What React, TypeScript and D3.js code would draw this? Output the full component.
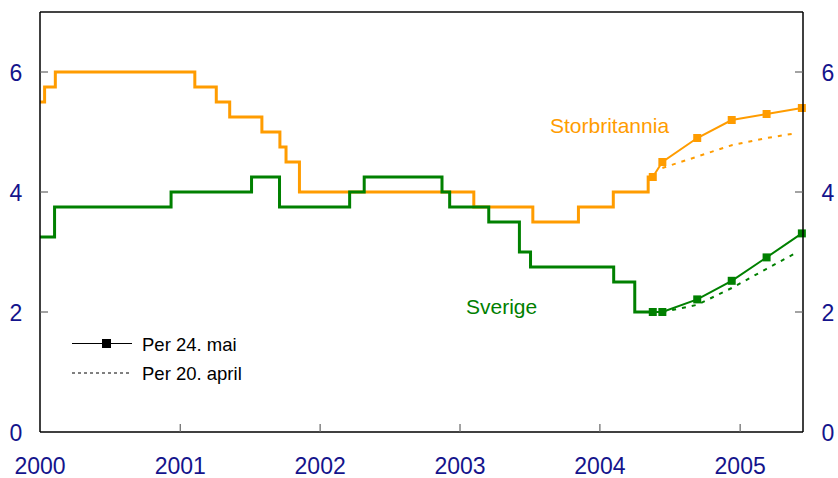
import React from "react";
import * as d3 from "d3";

// Historical policy rates (step functions)
const ukDates = ["2000-01-01","2000-01-13","2000-02-10","2001-02-08","2001-04-05","2001-05-10","2001-08-02","2001-09-18","2001-10-04","2001-11-08","2003-02-06","2003-07-10","2003-11-06","2004-02-05","2004-05-06","2004-05-18"];
const ukRates = [5.5,5.75,6.0,5.75,5.5,5.25,5.0,4.75,4.5,4.0,3.75,3.5,3.75,4.0,4.25,4.25];
const seDates = ["2000-01-01","2000-02-08","2000-12-08","2001-07-06","2001-09-17","2002-03-19","2002-04-26","2002-11-15","2002-12-05","2003-03-17","2003-06-05","2003-07-04","2004-02-06","2004-04-01","2004-05-18"];
const seRates = [3.25,3.75,4.0,4.25,3.75,4.0,4.25,4.0,3.75,3.5,3.0,2.75,2.5,2.0,2.0];

// Forward rates per 24 May (solid with markers)
const mayDates = ["2004-05-18","2004-06-12","2004-09-11","2004-12-10","2005-03-11","2005-06-11"];
const ukMay = [4.25,4.5,4.9,5.2,5.3,5.4];
const seMay = [2.0,2.0,2.21,2.52,2.91,3.31];

// Forward rates per 20 April (dashed)
const aprDates = ["2004-06-12","2004-09-11","2004-12-10","2005-03-11","2005-05-28"];
const ukApr = [4.4,4.59,4.78,4.9,4.98];
const seApr = [2.0,2.12,2.4,2.72,2.99];

const yTicks = [0,2,4,6];
const yearTicks = [2000,2001,2002,2003,2004,2005];

const ORANGE = "#ff9c00";
const GREEN = "#008000";
const NAVY = "#14148c";
const FONT = "'Liberation Sans', Arial, sans-serif";

export default function App() {
  const left = 40, right = 803, top = 12, bottom = 432;
  const x = d3.scaleTime().domain([new Date(2000,0,1), new Date(2005,5,14)]).range([left, right]);
  const y = d3.scaleLinear().domain([0,7]).range([bottom, top]);
  const pd = (s: string) => { const [a,b,c] = s.split("-").map(Number); return new Date(a,b-1,c); };

  const step = d3.line<[string, number]>().x(d => x(pd(d[0]))).y(d => y(d[1])).curve(d3.curveStepAfter);
  const lin = d3.line<[string, number]>().x(d => x(pd(d[0]))).y(d => y(d[1]));
  const zip = (ds: string[], vs: number[]) => ds.map((d, i) => [d, vs[i]] as [string, number]);

  const series = [
    { hist: zip(ukDates, ukRates), may: zip(mayDates, ukMay), apr: zip(aprDates, ukApr), color: ORANGE },
    { hist: zip(seDates, seRates), may: zip(mayDates, seMay), apr: zip(aprDates, seApr), color: GREEN },
  ];
  const ms = 8;

  return (
    <div style={{ position: "fixed", left: 0, top: 0 }}>
      <svg width={838} height={478} style={{ display: "block", background: "#fff" }} fontFamily={FONT}>
        {series.map((s, i) => (
          <g key={i}>
            <path d={lin(s.apr) || ""} fill="none" stroke={s.color} strokeWidth={2} strokeDasharray="4,6" />
            <path d={step(s.hist) || ""} fill="none" stroke={s.color} strokeWidth={3} />
            <path d={lin(s.may) || ""} fill="none" stroke={s.color} strokeWidth={2} />
            {s.may.map((d, j) => (
              <rect key={j} x={x(pd(d[0])) - ms/2} y={y(d[1]) - ms/2} width={ms} height={ms} fill={s.color} />
            ))}
          </g>
        ))}

        {/* frame */}
        <line x1={left} x2={right} y1={top} y2={top} stroke="#444" strokeWidth={2} />
        <line x1={left} x2={left} y1={top} y2={bottom} stroke="#000" strokeWidth={1.5} />
        <line x1={right} x2={right} y1={top} y2={bottom} stroke="#000" strokeWidth={1.5} />
        <line x1={left} x2={right} y1={bottom} y2={bottom} stroke="#000" strokeWidth={1.5} />

        {yTicks.map(t => (
          <g key={t}>
            {t > 0 && <line x1={left} x2={left + 8} y1={y(t)} y2={y(t)} stroke="#666" strokeWidth={1.2} />}
            {t > 0 && <line x1={right - 8} x2={right} y1={y(t)} y2={y(t)} stroke="#666" strokeWidth={1.2} />}
            <text x={16} y={y(t) + 9} textAnchor="middle" fontSize={23} fill={NAVY}>{t}</text>
            <text x={828} y={y(t) + 9} textAnchor="middle" fontSize={23} fill={NAVY}>{t}</text>
          </g>
        ))}
        {yearTicks.map(yr => (
          <g key={yr}>
            {yr > 2000 && <line x1={x(new Date(yr,0,1))} x2={x(new Date(yr,0,1))} y1={bottom - 8} y2={bottom} stroke="#666" strokeWidth={1.2} />}
            <text x={x(new Date(yr,0,1))} y={474} textAnchor="middle" fontSize={23} fill={NAVY}>{yr}</text>
          </g>
        ))}

        <text x={550} y={133} fontSize={21} fill={ORANGE}>Storbritannia</text>
        <text x={466} y={314} fontSize={21} fill={GREEN}>Sverige</text>

        {/* legend */}
        <line x1={72} x2={132} y1={343.5} y2={343.5} stroke="#000" strokeWidth={1.2} />
        <rect x={106.5 - 4.5} y={343.5 - 4.5} width={9} height={9} fill="#000" />
        <text x={142} y={351} fontSize={18.5} fill="#000">Per 24. mai</text>
        <line x1={72} x2={132} y1={373} y2={373} stroke="#000" strokeWidth={1} strokeDasharray="3,3" />
        <text x={142} y={380} fontSize={18.5} fill="#000">Per 20. april</text>
      </svg>
    </div>
  );
}
